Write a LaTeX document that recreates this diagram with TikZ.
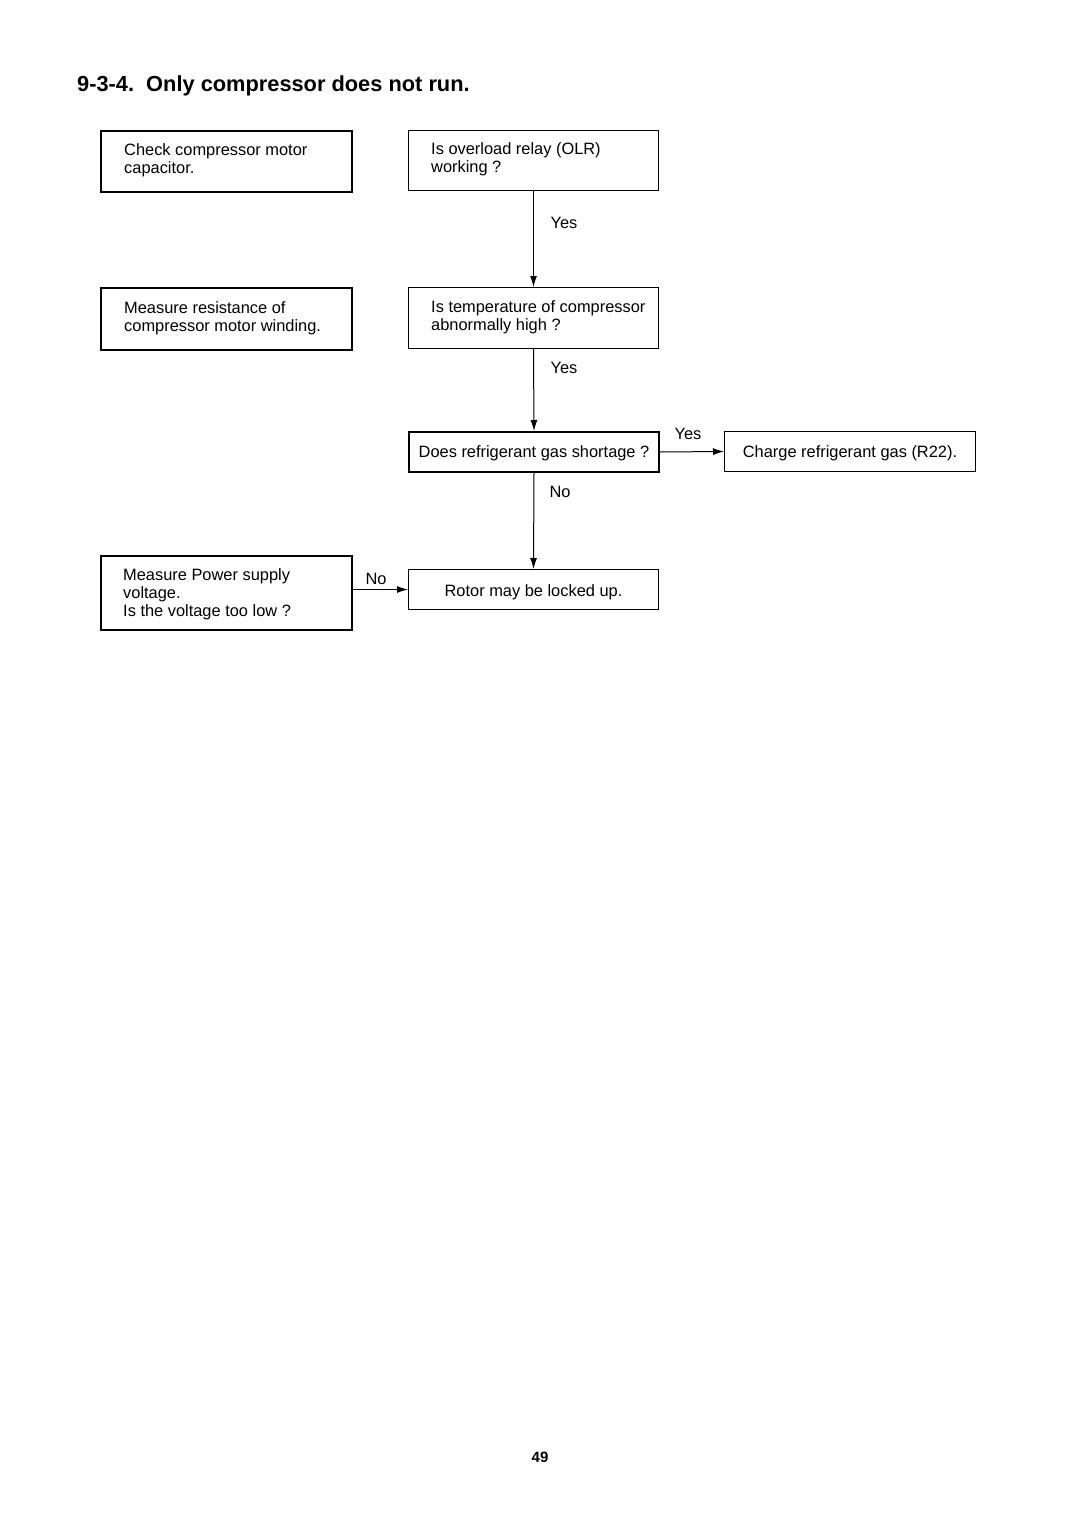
\documentclass[tikz,border=0pt]{standalone}
\usepackage{fontspec}
\setmainfont{Liberation Sans}
\usetikzlibrary{arrows.meta}
\begin{document}
\begin{tikzpicture}[x=1pt,y=-1pt,
 box/.style={draw,line width=1pt,inner sep=0pt,anchor=north west},
 tbox/.style={box,line width=2pt},
 txt/.style={font=\fontsize{16.4}{18.2}\selectfont,inner sep=0pt,align=left,anchor=west},
 ctxt/.style={font=\fontsize{16.4}{18.2}\selectfont,inner sep=0pt},
 lbl/.style={font=\fontsize{16.4}{18.2}\selectfont,inner sep=0pt},
 arr/.style={line width=1pt,-{Latex[length=11pt,width=7pt]}}]
\useasboundingbox (0,0) rectangle (1080,1528);

\node[font=\bfseries\fontsize{21.8}{26}\selectfont,anchor=base west,inner sep=0pt] (title) at (77,92) {9-3-4.\ \ Only compressor does not run.};

% boxes
\node[tbox,minimum width=251pt,minimum height=61pt] (A) at (100,130) {};
\node[box,minimum width=250pt,minimum height=60pt] (B) at (408,130) {};
\node[tbox,minimum width=251pt,minimum height=62pt] (C) at (100,287) {};
\node[box,minimum width=250pt,minimum height=61pt] (D) at (408,287) {};
\node[tbox,minimum width=250pt,minimum height=40pt] (E) at (408,431) {};
\node[box,minimum width=251pt,minimum height=40pt] (F) at (724,431) {};
\node[tbox,minimum width=251pt,minimum height=74pt] (G) at (100,555) {};
\node[box,minimum width=250pt,minimum height=40pt] (H) at (408,569) {};

% texts
\node[txt] (At) at (124,160) {Check compressor motor\\capacitor.};
\node[txt] (Bt) at (431,159) {Is overload relay (OLR)\\working ?};
\node[txt] (Ct) at (124,318) {Measure resistance of\\compressor motor winding.};
\node[txt] (Dt) at (431,317) {Is temperature of compressor\\abnormally high ?};
\node[ctxt] (Et) at ([yshift=-1.5pt]E.center) {Does refrigerant gas shortage ?};
\node[ctxt] (Ft) at ([yshift=-1.5pt]F.center) {Charge refrigerant gas (R22).};
\node[txt] (Gt) at (123,594) {Measure Power supply\\voltage.\\Is the voltage too low ?};
\node[ctxt] (Ht) at ([yshift=-2.5pt]H.center) {Rotor may be locked up.};

% connectors
\draw[arr] (B.south) -- (D.north);
\draw[arr] (D.south) -- (E.north);
\draw[arr] (E.south) -- (H.north);
\draw[arr] (E.east) -- (F.west);
\draw[arr] (G.east |- H.west) -- (H.west);

% labels
\node[lbl] (l1) at (564,223) {Yes};
\node[lbl] (l2) at (564,368) {Yes};
\node[lbl] (l3) at (688,434) {Yes};
\node[lbl] (l4) at (560,492) {No};
\node[lbl] (l5) at (376,579) {No};

\node[font=\bfseries\fontsize{15}{18}\selectfont,inner sep=0pt] (pg) at (540,1457) {49};
\end{tikzpicture}
\end{document}
